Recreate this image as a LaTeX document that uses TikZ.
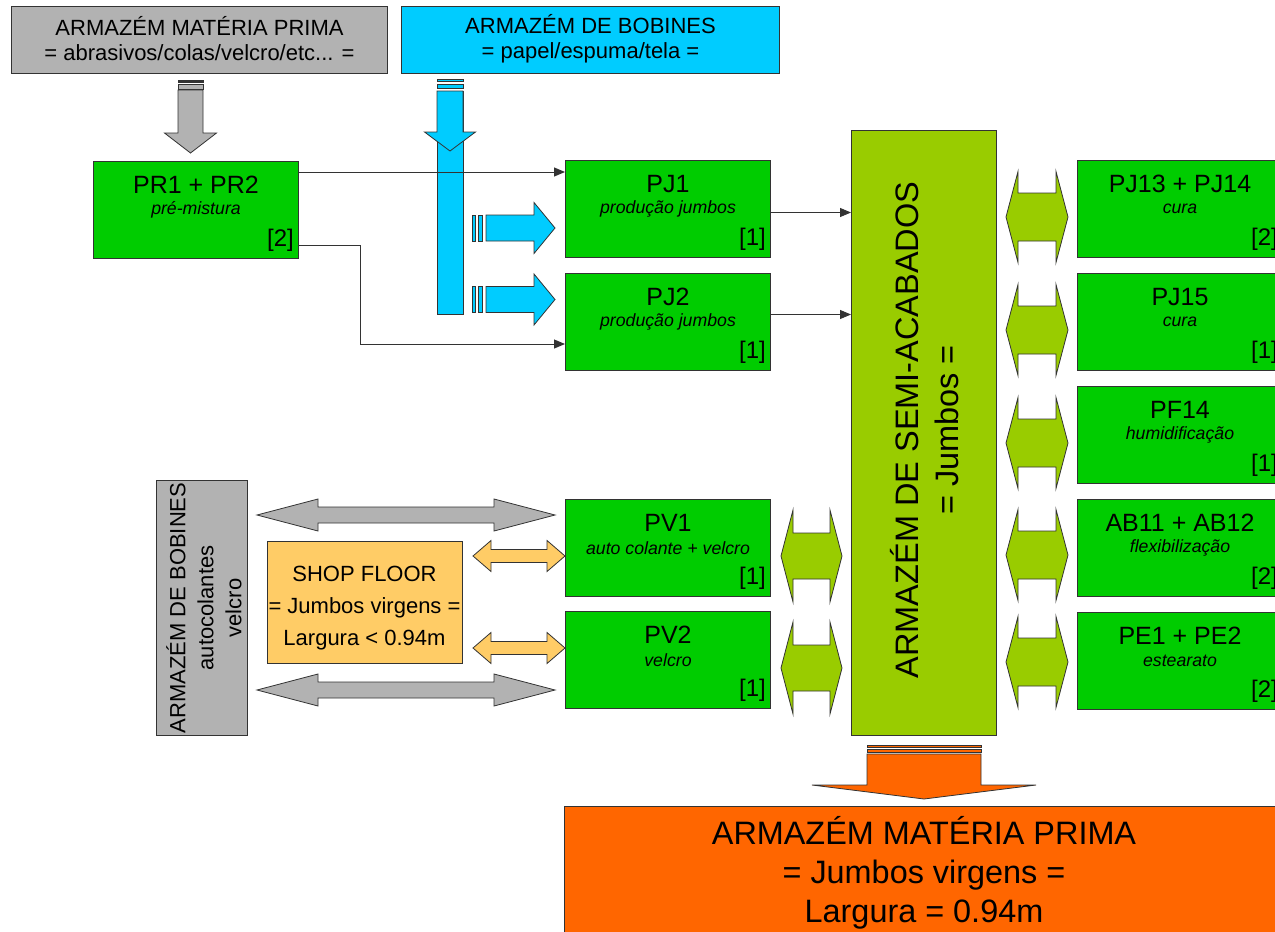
\documentclass[tikz,border=0pt]{standalone}
\usepackage{fontspec}
\setmainfont{Liberation Sans}
\usetikzlibrary{arrows.meta,calc}
\definecolor{cgray}{HTML}{B2B2B2}
\definecolor{ccyan}{HTML}{00CCFF}
\definecolor{cgreen}{HTML}{00CC00}
\definecolor{csemi}{HTML}{99CC00}
\definecolor{cshop}{HTML}{FFCC66}
\definecolor{corange}{HTML}{FF6600}
\definecolor{cline}{HTML}{333333}
\tikzset{
  box/.style={draw=cline, line width=1pt, inner sep=0pt},
  gbox/.style={box, fill=cgreen, minimum width=205pt, minimum height=97pt, anchor=north west},
  ttl/.style={inner sep=0pt, font=\fontsize{25}{29}\selectfont},
  sub/.style={inner sep=0pt, font=\fontsize{17.7}{20}\selectfont\itshape},
  num/.style={inner sep=0pt, font=\fontsize{24}{28}\selectfont, anchor=east},
  conn/.style={draw=cline, line width=1pt, -{Triangle[length=11pt,width=9pt]}},
  barrow/.style={draw=cline, line width=0.8pt, line join=miter},
}
\newcommand{\procbox}[6]{%
  \node[gbox] (#1) at (#2,#3) {};
  \node[ttl] (#1t) at ([yshift=-24pt]#1.north) {#4};
  \node[sub] (#1s) at ([yshift=-49pt]#1.north) {#5};
  \node[num] (#1n) at ([xshift=-5pt,yshift=19pt]#1.south east) {#6};
}
% style, x1, x2, y, headlen, halfhead, halfshaft
\newcommand{\dblarrow}[7]{%
  \filldraw[barrow,#1] (#2,#4) -- ({#2+#5},{#4-#6}) -- ({#2+#5},{#4-#7}) -- ({#3-#5},{#4-#7})
    -- ({#3-#5},{#4-#6}) -- (#3,#4) -- ({#3-#5},{#4+#6}) -- ({#3-#5},{#4+#7})
    -- ({#2+#5},{#4+#7}) -- ({#2+#5},{#4+#6}) -- cycle;}
% style, xl, xr, ytop, yhead, ytip, halfhead
\newcommand{\dnarrow}[7]{%
  \filldraw[barrow,#1] (#2,#4) -- (#2,#5) -- ({(#2+#3)/2-#7},#5) -- ({(#2+#3)/2},#6)
    -- ({(#2+#3)/2+#7},#5) -- (#3,#5) -- (#3,#4) -- cycle;}
% style, xl, xhead, xtip, yc, halfshaft, halfhead
\newcommand{\rtarrow}[7]{%
  \filldraw[barrow,#1] (#2,{#5-#6}) -- (#3,{#5-#6}) -- (#3,{#5-#7}) -- (#4,#5)
    -- (#3,{#5+#7}) -- (#3,{#5+#6}) -- (#2,{#5+#6}) -- cycle;}
\begin{document}
\begin{tikzpicture}[x=1pt,y=-1pt]
\useasboundingbox (0,0) rectangle (1275,932);
\clip (0,0) rectangle (1275,932);
\fill[white] (0,0) rectangle (1275,932);

% top storage boxes
\node[box, fill=cgray, minimum width=376pt, minimum height=67pt, anchor=north west] (amp) at (11,6) {};
\node[inner sep=0pt, align=center, font=\fontsize{22}{25}\selectfont] (ampt) at ([yshift=1pt]amp.center) {ARMAZÉM MATÉRIA PRIMA\\= abrasivos/colas/velcro/etc... =};
\node[box, fill=ccyan, minimum width=378pt, minimum height=67pt, anchor=north west] (abo) at (401,6) {};
\node[inner sep=0pt, align=center, font=\fontsize{22}{25}\selectfont] (abot) at ([yshift=1pt]abo.center) {ARMAZÉM DE BOBINES\\= papel/espuma/tela =};

% gray down arrow
\filldraw[barrow, fill=cline] (178,80.7) rectangle (203,82.3);
\filldraw[barrow, fill=cgray] (178,84.7) rectangle (203,89.3);
\dnarrow{fill=cgray}{178}{203}{90}{133}{153}{26}

% blue vertical arrow
\filldraw[barrow, fill=ccyan] (437,91) rectangle (463,314);
\filldraw[barrow, fill=ccyan] (437,79.3) rectangle (463,81.7);
\filldraw[barrow, fill=ccyan] (437,84) rectangle (463,88.3);
\dnarrow{fill=ccyan}{437}{463}{91}{132}{151}{25.5}

% blue right arrows
\foreach \yc in {228,299.5}{
  \filldraw[barrow, fill=ccyan] (472.3,{\yc-13}) rectangle (475.7,{\yc+13});
  \filldraw[barrow, fill=ccyan] (478,{\yc-13}) rectangle (482.7,{\yc+13});
  \rtarrow{fill=ccyan}{486}{534}{555}{\yc}{13}{25.5}
}

% process boxes
\procbox{pr}{93}{161}{PR1 + PR2}{pré-mistura}{[2]}
\procbox{pja}{565}{160}{PJ1}{produção jumbos}{[1]}
\procbox{pjb}{565}{273}{PJ2}{produção jumbos}{[1]}
\procbox{pva}{565}{499}{PV1}{auto colante + velcro}{[1]}
\procbox{pvb}{565}{611}{PV2}{velcro}{[1]}
\procbox{pjc}{1077}{160}{PJ13 + PJ14}{cura}{[2]}
\procbox{pjd}{1077}{273}{PJ15}{cura}{[1]}
\procbox{pfa}{1077}{386}{PF14}{humidificação}{[1]}
\procbox{aba}{1077}{499}{AB11 + AB12}{flexibilização}{[2]}
\procbox{pea}{1077}{612}{PE1 + PE2}{estearato}{[2]}

% semi-finished storage
\node[box, fill=csemi, minimum width=145pt, minimum height=605pt, anchor=north west] (semi) at (851,130) {};
\node[rotate=90, inner sep=0pt, align=center, font=\fontsize{32.5}{40}\selectfont] (semit) at (925,430) {ARMAZÉM DE SEMI-ACABADOS\\= Jumbos =};

% connectors
\draw[conn] ([yshift=-11pt]pr.north east) -- ([yshift=-11pt]pr.north east -| pja.west);
\coordinate (bend) at (360,344);
\draw[conn] ([yshift=14pt]pr.south east) -| (bend) -- (bend -| pjb.west);
\draw[conn] ([yshift=-3.5pt]pja.east) -- ([yshift=-3.5pt]pja.east -| semi.west);
\draw[conn] ([yshift=7.5pt]pjb.east) -- ([yshift=7.5pt]pjb.east -| semi.west);

% green double arrows
\dblarrow{fill=csemi}{781}{842}{556}{12}{46}{23}
\dblarrow{fill=csemi}{781}{842}{668}{12}{46}{23}
\foreach \yc in {217,330,443,555,662}{
  \dblarrow{fill=csemi}{1006}{1068}{\yc}{12}{45.5}{24}
}

% left side: bobbins storage and shop floor
\node[box, fill=cgray, minimum width=91pt, minimum height=255pt, anchor=north west] (abv) at (156,480) {};
\node[rotate=90, inner sep=0pt, align=center, font=\fontsize{22}{28}\selectfont] (abvt) at (204,608) {ARMAZÉM DE BOBINES\\autocolantes\\velcro};
\node[box, fill=cshop, minimum width=195pt, minimum height=122pt, anchor=north west] (shop) at (267,541) {};
\node[inner sep=0pt, align=center, font=\fontsize{22}{32}\selectfont] (shopt) at (364.5,608) {SHOP FLOOR\\= Jumbos virgens =\\Largura < 0.94m};

\dblarrow{fill=cgray}{257}{555}{515}{61}{16}{8}
\dblarrow{fill=cgray}{257}{555}{690}{61}{16}{8}
\dblarrow{fill=cshop}{473}{565}{556}{18}{15.5}{6.5}
\dblarrow{fill=cshop}{473}{565}{648}{18}{15.5}{6.5}

% bottom output arrow and storage
\filldraw[barrow, fill=corange] (867,745) rectangle (981,747.3);
\filldraw[barrow, fill=corange] (867,749.3) rectangle (981,752.3);
\filldraw[barrow, fill=corange] (867,754) -- (867,785) -- (812,785) -- (924,799) -- (1036,785) -- (981,785) -- (981,754) -- cycle;
\node[box, fill=corange, minimum width=720pt, minimum height=140pt, anchor=north west] (ampb) at (564,806) {};
\node[inner sep=0pt, align=center, font=\fontsize{32.4}{39}\selectfont] (ampbt) at (924,873) {ARMAZÉM MATÉRIA PRIMA\\= Jumbos virgens =\\Largura = 0.94m};
\end{tikzpicture}
\end{document}
